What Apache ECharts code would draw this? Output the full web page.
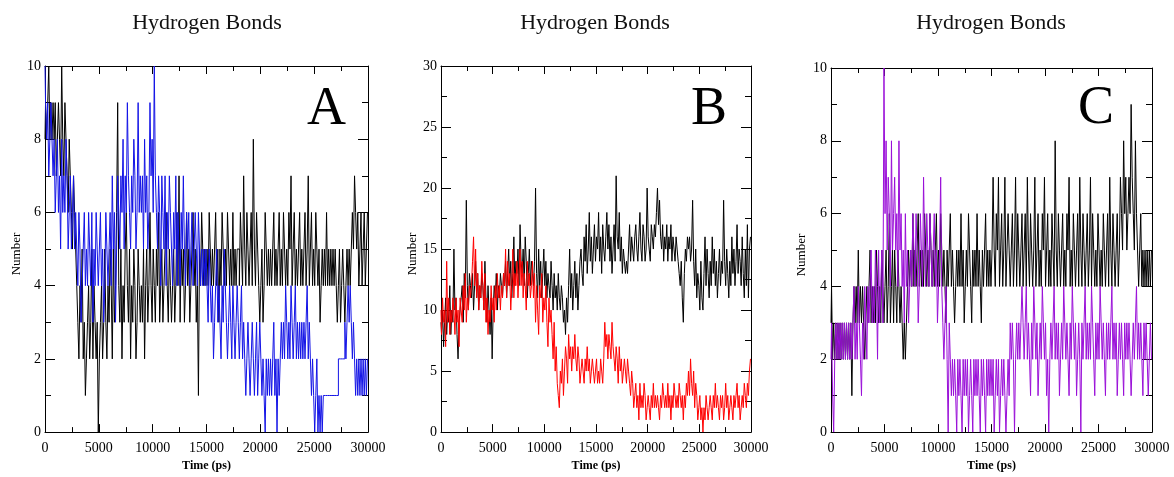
<!DOCTYPE html>
<html>
<head>
<meta charset="utf-8">
<script src="https://cdn.jsdelivr.net/npm/echarts@6/dist/echarts.min.js"></script>
<style>html,body{margin:0;padding:0;background:#fff}#c{width:1174px;height:477px}</style>
</head>
<body>
<div id="c"></div>
<script>
// Sampling times (ps): one frame every 100 ps, 0 .. 30000
var timeStep = 100;

var panelTitles = ["Hydrogen Bonds", "Hydrogen Bonds", "Hydrogen Bonds"];
var panelLetters = ["A", "B", "C"];
var xTickLabels = ["0", "5000", "10000", "15000", "20000", "25000", "30000"];
var xAxisName = "Time (ps)";
var yAxisName = "Number";
var yMax = [10, 30, 10];
var yInterval = [2, 5, 2];

// Panel A (one row = 3000 ps)
var aBlack = [
  8,9,8,9,10,8,9,8,9,8, 9,7,8,9,8,7,10,8,7,9, 8,7,6,8,7,6,5,7,6,5,
  4,3,2,4,3,5,2,3,1,2, 3,4,2,3,5,2,4,3,2,3, 0,2,3,4,2,3,5,3,2,4,
  3,5,4,2,5,3,4,6,9,4, 3,5,2,4,3,5,6,4,3,5, 2,4,3,5,4,2,3,5,4,3,
  4,3,5,2,4,5,3,4,6,4, 3,5,4,3,5,4,6,3,4,5, 3,4,5,6,4,3,5,4,3,4,
  5,3,4,6,4,7,3,5,4,5, 3,4,6,4,5,3,4,5,6,4, 5,3,4,1,5,4,6,5,4,5,
  4,5,4,6,5,4,5,4,5,6, 4,5,3,5,4,6,5,4,5,4, 6,5,4,5,4,6,4,5,4,5,
  5,4,6,5,4,7,5,4,6,5, 4,5,6,4,8,5,4,6,5,4, 3,4,5,3,4,6,5,4,5,4,
  5,4,5,6,4,5,4,5,6,4, 5,4,6,5,4,5,4,6,5,7, 4,5,6,4,5,4,5,6,4,5,
  4,5,6,4,5,7,4,5,6,4, 5,4,6,5,4,5,3,4,5,4, 5,4,6,4,5,4,5,4,5,4,
  5,4,3,4,5,3,4,5,4,3, 4,5,4,5,4,5,6,5,7,6, 5,6,4,5,6,4,5,6,4,5,
  6];
var aBlue = [
  10,9,8,9,7,8,9,8,7,8, 6,7,8,6,7,5,8,6,7,6, 8,7,5,6,7,5,6,7,5,6,
  5,4,6,5,3,4,5,6,4,5, 4,6,5,4,6,3,5,4,6,5, 4,5,6,4,5,3,4,6,5,4,
  5,6,4,7,5,6,3,5,7,6, 5,7,6,8,5,7,6,9,7,6, 5,7,6,8,7,5,6,9,6,7,
  6,7,5,8,6,7,5,6,9,7, 8,6,10,7,6,5,7,6,4,7, 6,5,7,4,6,5,7,6,5,4,
  6,5,7,4,6,5,4,6,5,7, 5,4,6,5,6,4,5,6,4,5, 6,5,4,6,5,4,5,4,5,4,
  5,4,3,5,4,3,4,2,3,4, 5,3,4,3,2,4,3,5,4,3, 2,3,4,3,2,4,3,2,3,4,
  3,2,3,4,2,3,2,1,2,3, 2,1,2,3,2,1,2,3,1,2, 3,2,1,2,1,0,2,1,2,1,
  2,1,2,3,1,2,0,2,1,2, 3,2,3,2,4,3,2,3,2,4, 3,2,3,4,2,3,2,3,2,3,
  2,3,2,3,4,2,3,2,1,2, 1,0,1,2,0,1,0,1,0,1, 1,1,1,1,1,1,1,1,1,1,
  1,1,1,2,2,2,2,2,2,3, 2,3,4,3,4,3,2,3,2,1, 2,1,2,1,2,1,2,1,2,1,
  2];

// Panel B
var bBlack = [
  9,8,10,7,9,11,8,10,9,12, 8,10,9,15,10,11,8,6,9,10, 11,12,9,13,11,19,12,10,13,12,
  11,13,10,12,14,11,13,10,12,11, 13,12,10,14,11,9,12,10,8,11, 6,10,12,11,13,10,12,11,13,12,
  11,13,12,14,11,13,15,12,14,11, 13,16,12,14,13,15,12,17,14,13, 15,12,16,14,11,13,15,12,14,13,
  12,14,20,13,11,15,12,14,11,13, 15,12,14,11,13,12,11,14,12,10, 13,11,12,10,13,11,10,12,11,9,
  10,8,11,9,12,15,11,13,10,12, 14,11,13,10,12,14,15,13,12,16, 14,17,13,15,18,14,16,13,15,17,
  14,16,15,18,14,16,13,17,15,14, 16,18,15,17,14,16,13,15,17,14, 21,16,15,18,14,16,13,15,14,13,
  14,13,15,17,14,16,15,14,16,17, 15,14,16,18,15,14,17,16,14,15, 20,16,15,14,17,16,15,17,16,18,
  20,17,19,16,15,17,14,16,15,17, 14,16,15,17,14,16,15,14,16,15, 14,13,12,14,11,9,13,15,14,16,
  15,16,14,15,19,14,12,15,11,13, 12,10,14,11,10,13,16,12,15,13, 11,14,12,16,13,15,12,14,11,13,
  15,12,14,13,19,14,12,15,13,11, 14,12,16,13,15,12,14,17,13,15, 14,12,16,13,11,15,12,17,11,15,
  16];
var bRed = [
  10,8,11,9,10,7,14,9,11,8, 10,9,11,10,8,11,9,10,7,11, 10,9,12,10,13,9,11,10,12,11,
  12,14,16,12,15,11,13,10,12,11, 14,12,10,13,9,11,8,10,9,12, 10,11,9,12,10,13,11,12,10,12,
  11,13,12,15,11,14,12,13,10,12, 15,11,13,12,14,11,13,15,12,14, 11,13,12,10,14,12,13,11,12,14,
  11,13,9,12,10,8,12,11,13,9, 11,10,12,9,7,11,9,10,8,6, 9,5,7,4,3,2,5,4,6,3,
  5,7,6,4,8,6,7,5,7,6, 8,6,5,7,6,4,5,6,5,4, 6,5,7,5,6,4,5,6,5,4,
  5,6,4,5,4,6,5,4,6,9, 7,8,6,8,7,6,9,7,6,5, 7,6,4,7,5,6,4,5,6,5,
  4,6,5,4,3,5,4,2,3,4, 2,3,1,4,2,3,2,4,3,1, 2,3,2,1,3,2,4,2,3,2,
  3,2,1,3,2,4,3,2,3,2, 4,2,3,1,3,2,4,3,2,3, 2,4,3,2,3,1,3,2,4,3,
  5,3,6,4,3,5,2,4,3,1, 2,3,1,2,0,2,1,3,2,1, 2,3,2,1,3,2,4,2,3,2,
  1,3,2,3,1,2,4,2,3,1, 2,3,2,1,3,2,3,4,2,3, 1,2,3,2,4,3,2,4,3,5,
  6];

// Panel C
var cBlack = [
  3,4,2,3,2,3,2,3,2,3, 2,3,2,3,2,3,2,3,2,3, 1,3,4,3,4,3,5,3,4,3,
  4,3,2,3,4,3,4,5,3,4, 3,4,3,5,4,3,4,3,5,4, 3,4,5,3,4,6,3,4,5,3,
  5,4,3,5,4,3,4,3,2,3, 2,3,4,5,4,5,4,6,4,5, 4,5,6,4,5,4,5,4,6,5,
  4,5,4,6,5,4,5,4,5,6, 4,5,4,6,5,4,5,4,3,5, 4,5,6,4,5,4,3,4,5,4,
  5,4,6,4,5,3,4,5,4,6, 5,4,3,5,4,5,4,6,4,5, 4,3,5,4,5,6,4,5,4,5,
  4,5,7,5,4,6,5,7,4,5, 6,4,5,7,4,5,6,5,4,5, 6,4,5,7,4,6,5,4,5,6,
  4,5,6,4,7,5,4,6,5,4, 5,7,4,5,6,4,5,4,6,5, 7,4,5,6,4,5,4,6,5,4,
  8,5,4,6,5,4,5,6,4,5, 4,6,5,7,4,5,4,6,5,4, 5,6,4,7,5,4,6,5,4,5,
  6,4,5,7,4,6,5,4,5,4, 6,5,4,5,4,6,5,4,5,6, 4,7,5,4,6,5,4,5,6,4,
  5,7,6,5,8,6,7,5,6,7, 6,9,7,6,5,8,6,5,4,5, 6,4,5,4,5,4,5,4,5,4,
  5];
var cPurple = [
  2,3,1,0,2,3,2,3,2,3, 2,3,2,3,2,3,2,3,2,3, 2,3,4,2,3,2,4,3,2,1,
  3,2,4,3,2,4,3,4,5,3, 4,3,5,4,2,5,3,4,5,3, 10,6,8,5,7,6,4,8,5,6,
  7,5,6,4,8,5,6,4,5,3, 6,4,5,3,4,5,4,6,5,4, 6,5,3,4,6,5,4,7,5,4,
  6,5,4,6,5,4,5,6,4,5, 3,4,5,7,4,3,2,3,4,2, 0,3,2,1,2,1,2,1,0,2,
  1,2,1,0,2,1,2,1,2,0, 1,2,1,0,2,1,2,1,2,1, 0,2,1,2,1,0,2,1,2,1,
  2,1,2,0,1,2,1,2,0,1, 2,1,2,1,0,1,2,1,3,2, 3,2,0,2,3,2,3,2,3,4,
  3,2,3,4,2,3,2,1,3,2, 4,3,2,3,1,2,3,2,4,3, 2,3,1,2,0,2,3,2,3,4,
  2,3,2,3,1,2,3,2,4,3, 2,3,2,1,3,2,4,3,2,3, 1,2,3,2,0,3,2,3,4,2,
  3,2,3,2,4,3,2,1,3,2, 3,2,4,3,2,3,2,1,3,2, 3,2,3,4,2,3,2,3,1,2,
  3,2,3,2,1,3,2,3,2,3, 2,1,2,3,2,3,4,2,3,2, 3,2,1,3,2,3,2,1,2,3,
  2];

var panelSeries = [
  [{data: aBlack, color: '#000000'}, {data: aBlue, color: '#1414e6'}],
  [{data: bBlack, color: '#000000'}, {data: bRed, color: '#ff0000'}],
  [{data: cBlack, color: '#000000'}, {data: cPurple, color: '#9a10d8'}]
];

var grids = [
  {left: 45, top: 66, width: 323, height: 376},
  {left: 441, top: 66, width: 310, height: 376},
  {left: 831, top: 68, width: 321, height: 374}
];
var titleX = [207, 595, 991];
var letterPos = [[307, 83], [691, 83], [1078, 82]];
var namePosX = [17, 413, 802];

var serif = '"Liberation Serif", "DejaVu Serif", serif';

function pairs(vals) {
  var out = [];
  for (var i = 0; i < vals.length; i++) out.push([i * timeStep, vals[i]]);
  return out;
}

var option = {
  animation: false,
  backgroundColor: '#ffffff',
  title: [], grid: [], xAxis: [], yAxis: [], series: [], graphic: []
};

function tickAxis(p, pos, interval, max, len, showLine, labels) {
  var ax = {
    type: 'value', gridIndex: p, min: 0, max: max, interval: interval, position: pos,
    axisLine: {show: showLine, onZero: false, lineStyle: {color: '#000', width: 1}},
    axisTick: {show: true, inside: true, length: len, lineStyle: {color: '#000', width: 1}},
    splitLine: {show: false},
    axisLabel: {show: false}
  };
  if (labels) ax.axisLabel = labels;
  return ax;
}

grids.forEach(function (g, p) {
  option.grid.push({left: g.left, top: g.top, width: g.width, height: g.height, containLabel: false});
  option.graphic.push({
    type: 'text', x: titleX[p], y: 23, z: 10,
    style: {text: panelTitles[p], font: '22px ' + serif, fill: '#111', align: 'center', verticalAlign: 'middle'}
  });
  option.graphic.push({
    type: 'text', left: letterPos[p][0], top: letterPos[p][1], z: 10,
    style: {text: panelLetters[p], font: '54px ' + serif, fill: '#000'}
  });
  option.graphic.push({
    type: 'text', x: namePosX[p], y: g.top + g.height / 2, rotation: Math.PI / 2, z: 10,
    style: {text: yAxisName, font: '13px ' + serif, fill: '#000', align: 'center', verticalAlign: 'middle'}
  });
  var xb = option.xAxis.length;
  var bottom = tickAxis(p, 'bottom', 5000, 30000, 8, true, {
    fontFamily: serif, fontSize: 14, color: '#000', margin: 9,
    formatter: function (v) { return xTickLabels[Math.round(v / 5000)]; }
  });
  bottom.name = xAxisName; bottom.nameLocation = 'middle'; bottom.nameGap = 27;
  bottom.nameTextStyle = {fontFamily: serif, fontSize: 12, fontWeight: 'bold', color: '#000'};
  option.xAxis.push(bottom);
  option.xAxis.push(tickAxis(p, 'bottom', 2500, 30000, 5, false));
  option.xAxis.push(tickAxis(p, 'top', 5000, 30000, 8, true));
  option.xAxis.push(tickAxis(p, 'top', 2500, 30000, 5, false));
  var yb = option.yAxis.length;
  option.yAxis.push(tickAxis(p, 'left', yInterval[p], yMax[p], 10, true,
    {fontFamily: serif, fontSize: 14, color: '#000', margin: 4}));
  option.yAxis.push(tickAxis(p, 'left', yInterval[p] / 2, yMax[p], 6, false));
  option.yAxis.push(tickAxis(p, 'right', yInterval[p], yMax[p], 10, true));
  option.yAxis.push(tickAxis(p, 'right', yInterval[p] / 2, yMax[p], 6, false));
  panelSeries[p].forEach(function (s) {
    option.series.push({
      type: 'line', xAxisIndex: xb, yAxisIndex: yb, data: pairs(s.data),
      showSymbol: false, symbol: 'none', silent: true, step: 'middle',
      lineStyle: {color: s.color, width: 1}, clip: true
    });
  });
});

var chart = echarts.init(document.getElementById('c'), null, {renderer: 'canvas'});
chart.setOption(option);
</script>
</body>
</html>
